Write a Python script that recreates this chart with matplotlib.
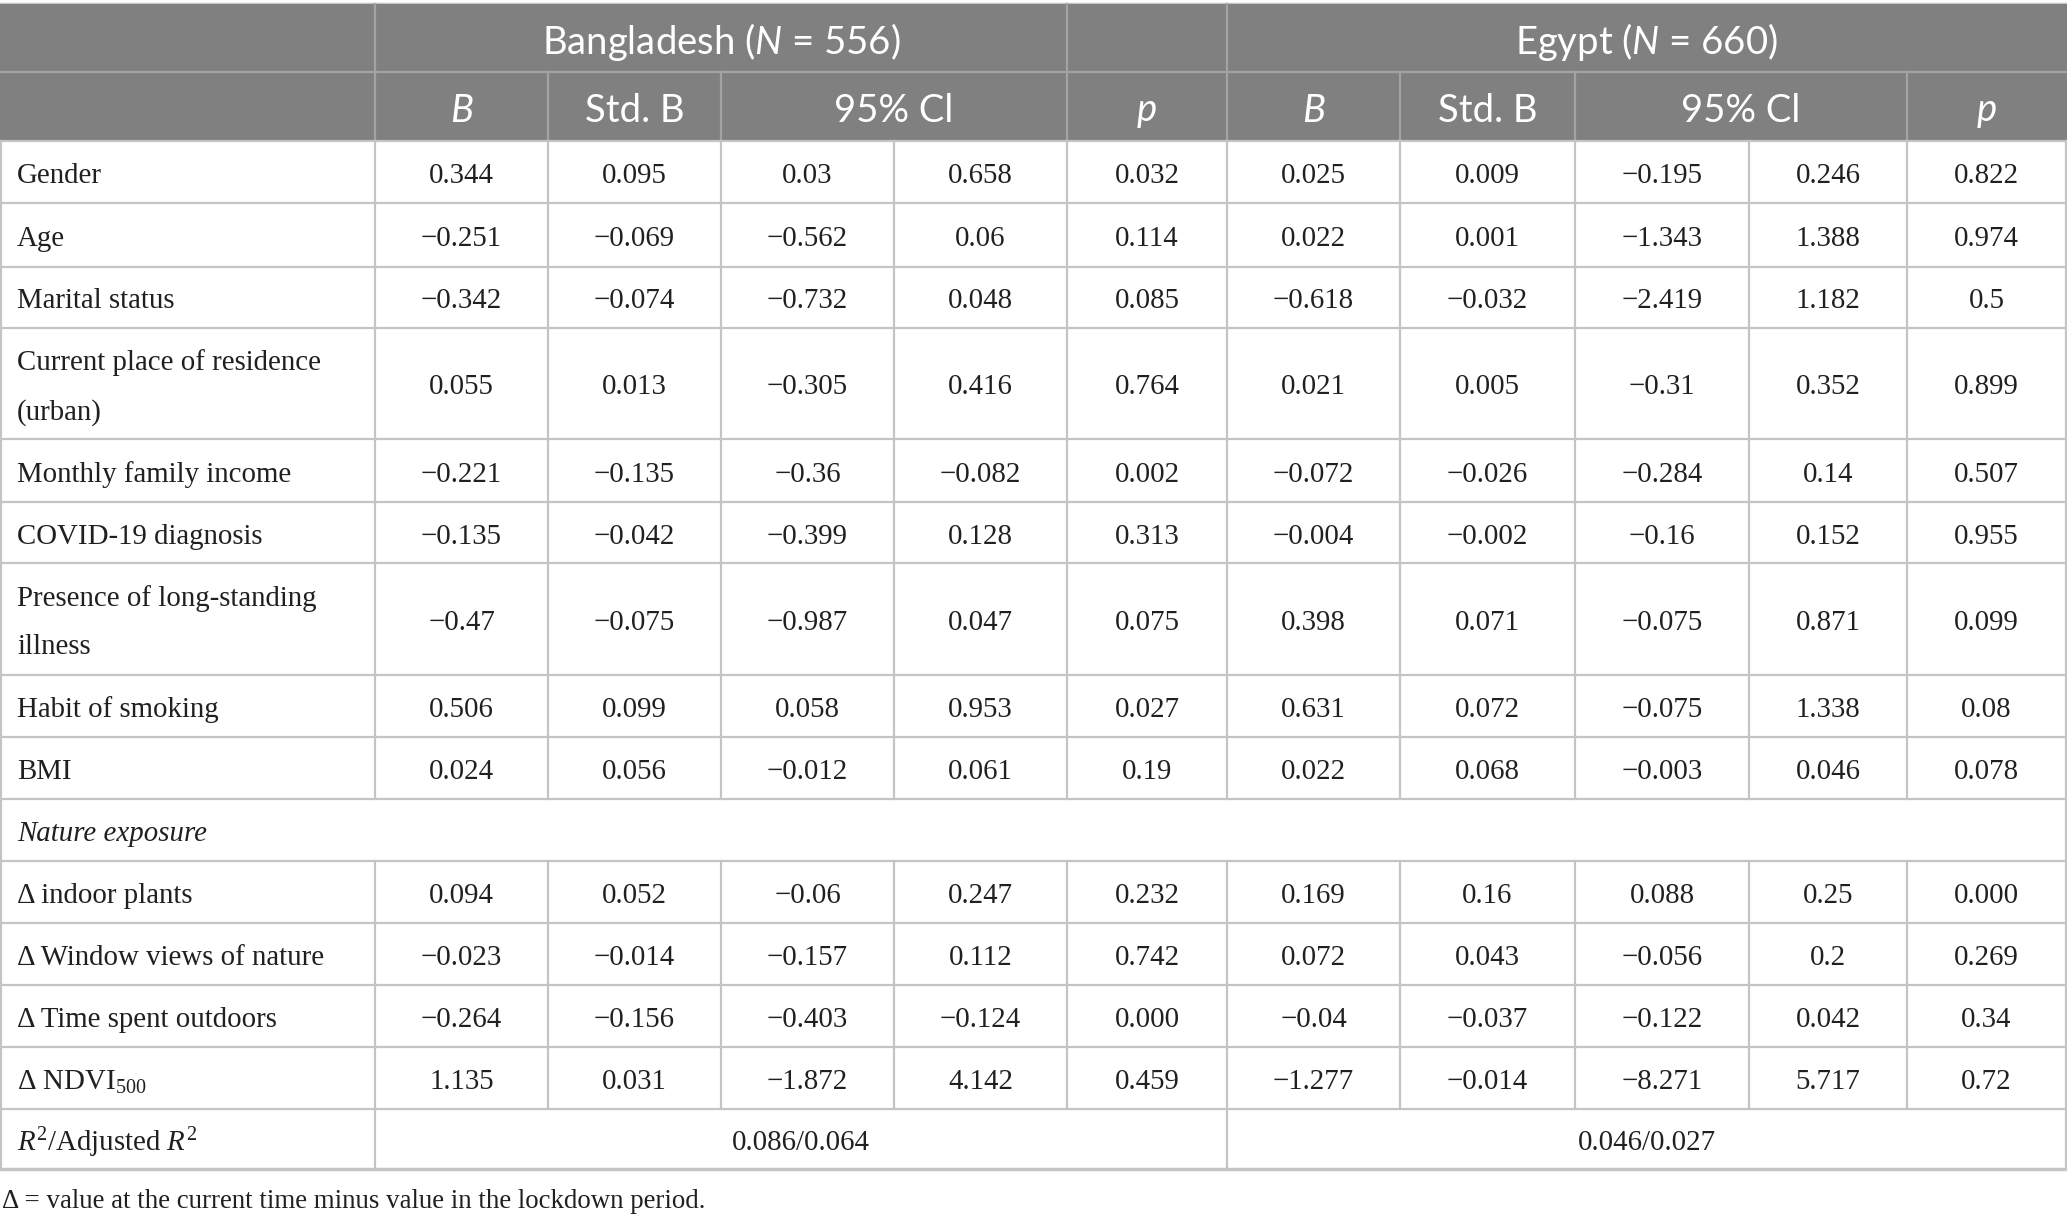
import matplotlib.pyplot as plt

plt.rcParams['mathtext.fontset'] = 'custom'
plt.rcParams['mathtext.rm'] = 'Liberation Serif'
plt.rcParams['mathtext.it'] = 'Liberation Serif:italic'
plt.rcParams['mathtext.bf'] = 'Lato:italic'

# table content
row_labels = ["Gender", "Age", "Marital status", "Current place of residence\n(urban)",
              "Monthly family income", "COVID-19 diagnosis",
              "Presence of long-standing\nillness", "Habit of smoking", "BMI",
              "Nature exposure", "Δ indoor plants", "Δ Window views of nature",
              "Δ Time spent outdoors", "Δ NDVI$_{500}$", "$R^2$/Adjusted $R^2$"]

bangladesh = [
    ["0.344", "0.095", "0.03", "0.658", "0.032"],
    ["−0.251", "−0.069", "−0.562", "0.06", "0.114"],
    ["−0.342", "−0.074", "−0.732", "0.048", "0.085"],
    ["0.055", "0.013", "−0.305", "0.416", "0.764"],
    ["−0.221", "−0.135", "−0.36", "−0.082", "0.002"],
    ["−0.135", "−0.042", "−0.399", "0.128", "0.313"],
    ["−0.47", "−0.075", "−0.987", "0.047", "0.075"],
    ["0.506", "0.099", "0.058", "0.953", "0.027"],
    ["0.024", "0.056", "−0.012", "0.061", "0.19"],
    None,
    ["0.094", "0.052", "−0.06", "0.247", "0.232"],
    ["−0.023", "−0.014", "−0.157", "0.112", "0.742"],
    ["−0.264", "−0.156", "−0.403", "−0.124", "0.000"],
    ["1.135", "0.031", "−1.872", "4.142", "0.459"],
]
egypt = [
    ["0.025", "0.009", "−0.195", "0.246", "0.822"],
    ["0.022", "0.001", "−1.343", "1.388", "0.974"],
    ["−0.618", "−0.032", "−2.419", "1.182", "0.5"],
    ["0.021", "0.005", "−0.31", "0.352", "0.899"],
    ["−0.072", "−0.026", "−0.284", "0.14", "0.507"],
    ["−0.004", "−0.002", "−0.16", "0.152", "0.955"],
    ["0.398", "0.071", "−0.075", "0.871", "0.099"],
    ["0.631", "0.072", "−0.075", "1.338", "0.08"],
    ["0.022", "0.068", "−0.003", "0.046", "0.078"],
    None,
    ["0.169", "0.16", "0.088", "0.25", "0.000"],
    ["0.072", "0.043", "−0.056", "0.2", "0.269"],
    ["−0.04", "−0.037", "−0.122", "0.042", "0.34"],
    ["−1.277", "−0.014", "−8.271", "5.717", "0.72"],
]
r2_values = ["0.086/0.064", "0.046/0.027"]
group_titles = ["Bangladesh ($\\mathbf{N}$ = 556)", "Egypt ($\\mathbf{N}$ = 660)"]
footnote = "Δ = value at the current time minus value in the lockdown period."

# layout in pixels
W, H = 2067, 1223
xs = [1, 375, 548, 721, 894, 1067, 1227, 1400, 1575, 1749, 1907, 2066]
ys = [4, 72, 141, 203, 267, 328, 439, 502, 563, 675, 737, 799, 861, 923, 985, 1047, 1109, 1169]
dy = 4  # text sits a little below the cell middle

head_bg = '#808080'
head_line = '#a3a3a3'
grid = '#c4c4c4'
serif = 'Liberation Serif'
sans = 'Lato'

fig = plt.figure(figsize=(W / 100, H / 100), dpi=100)
ax = fig.add_axes([0, 0, 1, 1])
ax.set_xlim(0, W)
ax.set_ylim(H, 0)
ax.axis('off')

# header block
ax.fill_between([0, W], ys[0], ys[2], color=head_bg, lw=0)
ax.plot([0, W], [ys[1], ys[1]], color=head_line, lw=1.6)
for x in [xs[1], xs[5], xs[6]]:
    ax.plot([x, x], [ys[0], ys[1]], color=head_line, lw=1.6)
for x in [xs[1], xs[2], xs[3], xs[5], xs[6], xs[7], xs[8], xs[10]]:
    ax.plot([x, x], [ys[1], ys[2]], color=head_line, lw=1.6)

hkw = dict(color='white', family=sans, fontsize=27.5, ha='center', va='center')
ax.text((xs[1] + xs[5]) / 2, (ys[0] + ys[1]) / 2 + dy, group_titles[0], **hkw)
ax.text((xs[6] + xs[11]) / 2, (ys[0] + ys[1]) / 2 + dy, group_titles[1], **hkw)
ym = (ys[1] + ys[2]) / 2 + dy
for off in (1, 6):
    ax.text((xs[off] + xs[off + 1]) / 2, ym, "B", style='italic', **hkw)
    ax.text((xs[off + 1] + xs[off + 2]) / 2, ym, "Std. B", **hkw)
    ax.text((xs[off + 2] + xs[off + 4]) / 2, ym, "95% Cl", **hkw)
    ax.text((xs[off + 4] + xs[off + 5]) / 2, ym, "p", style='italic', **hkw)

# body grid
ax.plot([0, W], [ys[0], ys[0]], color=grid, lw=2.5, zorder=0)
for y in ys[2:-1]:
    ax.plot([0, W], [y, y], color=grid, lw=1.6)
ax.plot([0, W], [ys[-1], ys[-1]], color=grid, lw=2.5)

bkw = dict(color='#231f20', family=serif, fontsize=20.8, va='center')
for i, label in enumerate(row_labels):
    y0, y1 = ys[i + 2], ys[i + 3]
    yc = (y0 + y1) / 2 + dy
    if i == 9:
        verts = [xs[0], xs[-1]]
    elif i == len(row_labels) - 1:
        verts = [xs[0], xs[1], xs[6], xs[-1]]
    else:
        verts = xs
    for x in verts:
        ax.plot([x, x], [y0, y1], color=grid, lw=1.6)
    ax.text(17, yc, label, ha='left', linespacing=2.1,
            style='italic' if i == 9 else 'normal', **bkw)
    if i == len(row_labels) - 1:
        ax.text((xs[1] + xs[6]) / 2, yc, r2_values[0], ha='center', **bkw)
        ax.text((xs[6] + xs[-1]) / 2, yc, r2_values[1], ha='center', **bkw)
        continue
    if bangladesh[i] is None:
        continue
    for j, v in enumerate(bangladesh[i] + egypt[i]):
        ax.text((xs[j + 1] + xs[j + 2]) / 2, yc, v, ha='center', **bkw)

ax.text(2, 1201, footnote, ha='left', **dict(bkw, fontsize=19.4))

fig.savefig('out.png', dpi=100)
